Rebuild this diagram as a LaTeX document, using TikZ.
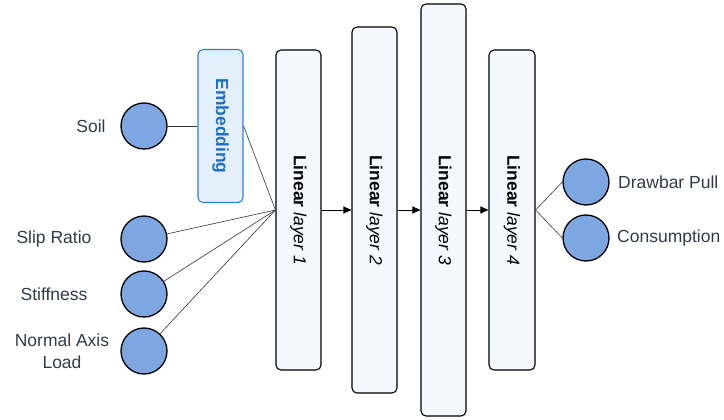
\documentclass[tikz,border=0pt]{standalone}
\usepackage{fontspec}
\setmainfont{Liberation Sans}
\usetikzlibrary{arrows.meta}
\definecolor{circfill}{HTML}{7EA6E0}
\definecolor{layfill}{HTML}{F5F8FF}
\definecolor{embfill}{HTML}{E4EFFC}
\definecolor{embdraw}{HTML}{2F7FD3}
\definecolor{embtext}{HTML}{1F6FC8}
\definecolor{lbltext}{HTML}{2E3B4C}
\tikzset{
  x=1pt, y=-1pt,
  every node/.style={font=\fontsize{17.5}{22}\selectfont},
  feat/.style={circle, draw=black, line width=1.3pt, fill=circfill, minimum size=46pt, inner sep=0pt},
  lbl/.style={text=lbltext, align=center, inner sep=0pt},
  laybox/.style={draw=black, line width=1.1pt, fill=layfill, rounded corners=5pt, inner sep=0pt},
  laytext/.style={rotate=-90, inner sep=0pt},
  embbox/.style={draw=embdraw, line width=1.1pt, fill=embfill, rounded corners=5pt, inner sep=0pt},
  conn/.style={draw=black!80, line width=0.6pt},
  arr/.style={draw=black, line width=1pt, -{Triangle[length=8pt,width=7pt]}}
}
\begin{document}
\begin{tikzpicture}
\useasboundingbox (0,0) rectangle (724,420);
% layer boxes
\node[laybox, minimum width=45pt, minimum height=320pt] (L1) at (298.5,210) {};
\node[laybox, minimum width=45pt, minimum height=366pt] (L2) at (374.5,210) {};
\node[laybox, minimum width=45pt, minimum height=412pt] (L3) at (443.5,210) {};
\node[laybox, minimum width=46pt, minimum height=320pt] (L4) at (512,210) {};
\node[laytext] (L1t) at (L1.center) {\textbf{Linear} \textit{layer 1}};
\node[laytext] (L2t) at (L2.center) {\textbf{Linear} \textit{layer 2}};
\node[laytext] (L3t) at (L3.center) {\textbf{Linear} \textit{layer 3}};
\node[laytext] (L4t) at (L4.center) {\textbf{Linear} \textit{layer 4}};
% embedding
\node[embbox, minimum width=45pt, minimum height=153pt] (E) at (220.5,126) {};
\node[laytext, text=embtext] (Et) at (E.center) {\textbf{Embedding}};
% input features
\node[feat] (soil) at (144,126) {};
\node[feat] (slip) at (144,239) {};
\node[feat] (stif) at (144,294) {};
\node[feat] (load) at (144,351) {};
\node[lbl] (soilt) at (91,126) {Soil};
\node[lbl] (slipt) at (54,239) {Slip Ratio};
\node[lbl] (stift) at (54,294) {Stiffness};
\node[lbl] (loadt) at (62,351) {Normal Axis\\Load};
% outputs
\node[feat] (o1) at (586,182) {};
\node[feat] (o2) at (586,238) {};
\node[lbl, anchor=west] (o1t) at (618,182) {Drawbar Pull};
\node[lbl, anchor=west] (o2t) at (617,238) {Consumption};
% connectors
\draw[conn] (soil.east) -- (E.west);
\draw[conn] (E.east) -- (L1.west);
\draw[conn] (slip) -- (L1.west);
\draw[conn] (stif) -- (L1.west);
\draw[conn] (load) -- (L1.west);
\draw[arr] (L1.east) -- (L2.west);
\draw[arr] (L2.east) -- (L3.west);
\draw[arr] (L3.east) -- (L4.west);
\draw[conn] (L4.east) -- (o1.west);
\draw[conn] (L4.east) -- (o2.west);
\end{tikzpicture}
\end{document}
